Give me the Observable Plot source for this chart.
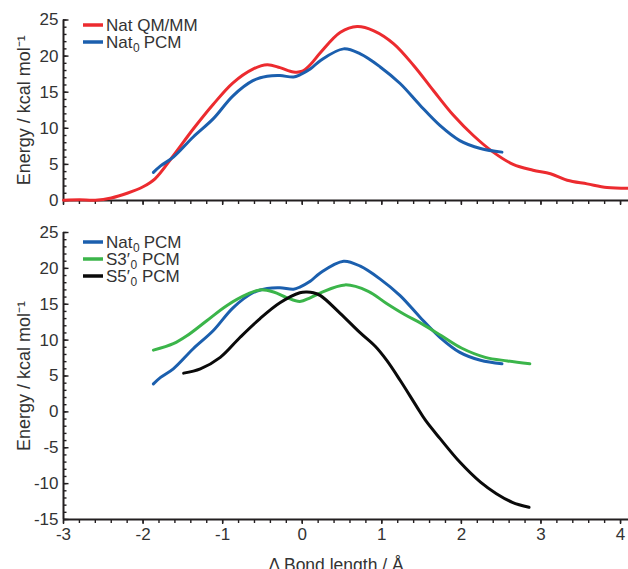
<!DOCTYPE html>
<html><head><meta charset="utf-8">
<script src="https://cdn.jsdelivr.net/npm/d3@7"></script>
<script src="https://cdn.jsdelivr.net/npm/@observablehq/plot@0.6"></script>
<style>
body{margin:0;background:#fff;}
#chart svg{display:block;overflow:visible;}
</style></head><body><div id="chart"></div>
<script>
// ---- data ----
const natQmmmX = [-3.0,-2.8,-2.6,-2.4,-2.2,-2.0,-1.85,-1.62,-1.37,-1.12,-0.87,-0.62,-0.44,-0.28,-0.11,0.0,0.1,0.23,0.48,0.69,0.9,1.15,1.4,1.65,1.9,2.15,2.4,2.65,2.9,3.12,3.33,3.58,3.83,4.1];
const natQmmmY = [0.05,0.1,0.05,0.35,1.0,1.9,3.0,6.2,9.9,13.3,16.3,18.2,18.8,18.4,17.8,17.9,18.8,20.5,23.3,24.1,23.5,21.7,18.7,15.2,11.8,9.0,6.7,5.0,4.2,3.7,2.8,2.3,1.8,1.7];

const natPcmX = [-1.87,-1.78,-1.62,-1.37,-1.12,-0.87,-0.62,-0.44,-0.28,-0.11,-0.03,0.1,0.23,0.52,0.73,0.98,1.23,1.48,1.73,1.98,2.24,2.51];
const natPcmY = [3.9,4.8,6.0,8.8,11.3,14.5,16.6,17.2,17.3,17.1,17.4,18.2,19.4,21.0,20.3,18.5,16.2,13.2,10.4,8.3,7.2,6.7];

const s3PcmX = [-1.87,-1.62,-1.45,-1.2,-0.95,-0.69,-0.53,-0.36,-0.19,-0.03,0.1,0.23,0.54,0.83,1.06,1.28,1.5,1.75,2.0,2.3,2.58,2.86];
const s3PcmY = [8.6,9.5,10.6,12.7,14.8,16.4,17.0,16.7,15.9,15.4,15.9,16.6,17.7,16.8,15.1,13.6,12.3,10.6,8.9,7.6,7.1,6.7];

const s5PcmX = [-1.49,-1.28,-1.03,-0.78,-0.53,-0.28,-0.03,0.06,0.14,0.23,0.48,0.73,0.92,1.06,1.23,1.44,1.55,1.73,1.98,2.24,2.44,2.64,2.85];
const s5PcmY = [5.4,6.0,7.6,10.4,13.0,15.2,16.6,16.7,16.6,16.2,13.7,11.0,9.1,7.2,4.4,0.7,-1.2,-3.7,-7.0,-9.8,-11.4,-12.6,-13.3];

const xMajorTicks = [-3,-2,-1,0,1,2,3,4];
const xMinorTicks = d3.range(-3, 4.001, 0.2).map(v => +v.toFixed(1));
const yTopMajor = [0,5,10,15,20,25];
const yTopMinor = d3.range(0, 26, 1);
const yBotMajor = [-15,-10,-5,0,5,10,15,20,25];
const yBotMinor = d3.range(-15, 26, 1);

const colors = {red:"#ec2b2f", blue:"#1b5fae", green:"#3bb54a", black:"#0a0a0a"};
const yTitle = "Energy / kcal mol\u207B\u00B9";
const xTitle = "\u0394 Bond length / \u00C5";

const toRows = (xs, ys) => xs.map((x, i) => ({x, y: ys[i]}));
const font = "'Liberation Sans', Arial, Helvetica, sans-serif";
const ink = "#231f20";

function axesMarks(xAxisY, yMinor, yMajor, withXLabels) {
  return [
    Plot.axisX({ticks: xMinorTicks, tickSize: 4, tickFormat: () => "", label: null, strokeWidth: 1.4, stroke: ink}),
    Plot.axisX({ticks: xMajorTicks, tickSize: 5, tickFormat: withXLabels ? (d => String(d)) : (() => ""), tickPadding: 3, label: null, strokeWidth: 1.4, stroke: ink, fill: "#333", fontSize: 17}),
    Plot.axisY({ticks: yMinor, tickSize: -3.5, tickFormat: () => "", label: null, strokeWidth: 1.4, stroke: ink}),
    Plot.axisY({ticks: yMajor, tickSize: -5.5, tickFormat: () => "", label: null, strokeWidth: 1.4, stroke: ink}),
    Plot.axisY({ticks: yMajor, tickSize: 0, tickPadding: 5, tickFormat: d => String(d), label: null, fill: "#333", fontSize: 17}),
    Plot.ruleY([xAxisY], {stroke: ink, strokeWidth: 2}),
    Plot.ruleX([-3], {stroke: ink, strokeWidth: 2}),
    Plot.text([yTitle], {frameAnchor: "left", rotate: -90, dx: -39, textAnchor: "middle", lineAnchor: "middle", fontSize: 18, fill: "#333"})
  ];
}

// legend pieces are separate text elements placed side by side (measured after insertion)
function addLegend(svg, entries, y0, step) {
  const g = d3.select(svg).append("g").attr("font-family", font).attr("fill", "#333").attr("text-anchor", "start");
  entries.forEach((e, i) => {
    const y = y0 + i * step;
    g.append("line").attr("x1", 83).attr("x2", 103).attr("y1", y).attr("y2", y)
      .attr("stroke", e.color).attr("stroke-width", 3.5);
    let x = 106;
    const piece = (txt, size, dy) => {
      const t = g.append("text").attr("x", x).attr("y", y + 6 + dy).attr("font-size", size).attr("text-anchor", "start").text(txt);
      x += t.node().getComputedTextLength();
      return t;
    };
    piece(e.main, 17, 0);
    if (e.prime) piece("\u2032", 17, 0);
    if (e.sub) { x += 0.5; piece(e.sub, 12, 4); }
    if (e.tail) g.append("text").attr("x", Math.max(142, x + 4)).attr("y", y + 6).attr("font-size", 17).attr("text-anchor", "start").text(e.tail);
  });
}

const topPlot = Plot.plot({
  width: 628, height: 210,
  marginLeft: 63, marginRight: 0, marginTop: 19.5, marginBottom: 10,
  style: {fontFamily: font, fontSize: "17px", color: ink, background: "#fff"},
  x: {domain: [-3, 4.1]},
  y: {domain: [0, 25]},
  marks: [
    ...axesMarks(0, yTopMinor, yTopMajor, false),
    Plot.line(toRows(natQmmmX, natQmmmY), {x: "x", y: "y", stroke: colors.red, strokeWidth: 3, curve: "catmull-rom"}),
    Plot.line(toRows(natPcmX, natPcmY), {x: "x", y: "y", stroke: colors.blue, strokeWidth: 3, curve: "catmull-rom"})
  ]
});

const botPlot = Plot.plot({
  width: 628, height: 359,
  marginLeft: 63, marginRight: 0, marginTop: 22, marginBottom: 50,
  style: {fontFamily: font, fontSize: "17px", color: ink, background: "#fff"},
  x: {domain: [-3, 4.1]},
  y: {domain: [-15, 25]},
  marks: [
    ...axesMarks(-15, yBotMinor, yBotMajor, true),
    Plot.text([xTitle], {frameAnchor: "bottom", dx: -10, dy: 46, lineAnchor: "middle", fontSize: 17.5, fill: "#333"}),
    Plot.line(toRows(natPcmX, natPcmY), {x: "x", y: "y", stroke: colors.blue, strokeWidth: 3, curve: "catmull-rom"}),
    Plot.line(toRows(s3PcmX, s3PcmY), {x: "x", y: "y", stroke: colors.green, strokeWidth: 3, curve: "catmull-rom"}),
    Plot.line(toRows(s5PcmX, s5PcmY), {x: "x", y: "y", stroke: colors.black, strokeWidth: 3, curve: "catmull-rom"})
  ]
});

document.getElementById("chart").append(topPlot, botPlot);

addLegend(topPlot, [
  {main: "Nat QM/MM", color: colors.red},
  {main: "Nat", sub: "0", tail: "PCM", color: colors.blue}
], 25, 17);
addLegend(botPlot, [
  {main: "Nat", sub: "0", tail: "PCM", color: colors.blue},
  {main: "S3", prime: true, sub: "0", tail: "PCM", color: colors.green},
  {main: "S5", prime: true, sub: "0", tail: "PCM", color: colors.black}
], 32, 17);
</script></body></html>
